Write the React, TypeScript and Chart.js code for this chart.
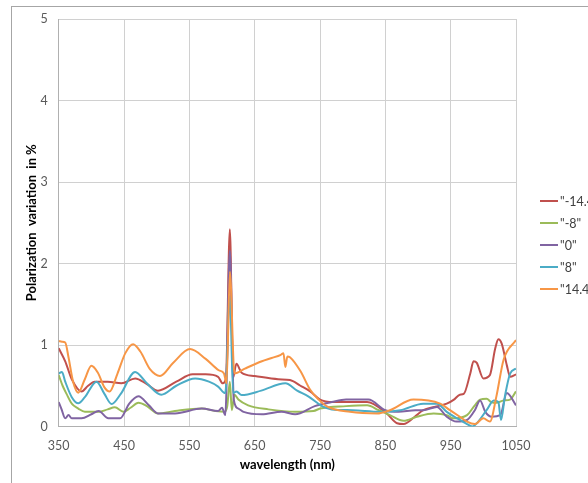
import React, { useEffect, useRef } from "react";
import { Chart, registerables } from "chart.js";
Chart.register(...registerables);

const seriesLabels = ['"-14.4"', '"-8"', '"0"', '"8"', '"14.4"'];
const seriesColors = ["#C0504D", "#9BBB59", "#8064A2", "#4BACC6", "#F79646"];

const xTicks = [350, 450, 550, 650, 750, 850, 950, 1050];
const yTicks = [0, 1, 2, 3, 4, 5];

const redNm = [350, 360, 370, 385, 395, 405, 425, 446, 467, 485, 502, 530, 555, 575, 594, 601, 606, 612, 617, 622, 630, 650, 686, 704, 720, 735, 750, 770, 822, 852, 868, 878, 895, 908, 925, 944, 955, 964, 970, 980, 985, 990, 1000, 1010, 1018, 1023, 1028, 1036, 1041, 1050];
const redVal = [0.96, 0.8, 0.58, 0.43, 0.5, 0.55, 0.55, 0.53, 0.59, 0.52, 0.44, 0.55, 0.64, 0.64, 0.61, 0.53, 0.59, 2.42, 0.6, 0.77, 0.66, 0.62, 0.58, 0.57, 0.5, 0.43, 0.33, 0.3, 0.3, 0.16, 0.04, 0.03, 0.12, 0.2, 0.24, 0.28, 0.33, 0.39, 0.4, 0.65, 0.8, 0.78, 0.59, 0.63, 0.95, 1.07, 1.02, 0.75, 0.61, 0.64];

const greenNm = [350, 356, 362, 370, 380, 390, 411, 425, 436, 449, 460, 472, 485, 502, 528, 569, 590, 604, 608, 612, 615, 619, 625, 640, 671, 712, 740, 750, 790, 822, 840, 857, 878, 898, 924, 944, 954, 975, 987, 995, 1005, 1012, 1020, 1031, 1041, 1050];
const greenVal = [0.63, 0.5, 0.4, 0.28, 0.22, 0.18, 0.18, 0.21, 0.235, 0.18, 0.23, 0.29, 0.25, 0.16, 0.19, 0.22, 0.19, 0.18, 0.25, 0.55, 0.2, 0.39, 0.33, 0.26, 0.21, 0.18, 0.19, 0.22, 0.25, 0.26, 0.2, 0.14, 0.07, 0.12, 0.16, 0.14, 0.1, 0.14, 0.26, 0.33, 0.34, 0.3, 0.29, 0.32, 0.33, 0.43];

const purpleNm = [350, 354, 360, 365, 370, 385, 400, 411, 426, 444, 458, 472, 488, 502, 528, 569, 594, 600, 605, 612, 618, 625, 633, 661, 691, 712, 742, 768, 790, 824, 850, 870, 896, 908, 929, 944, 959, 975, 987, 995, 1003, 1013, 1026, 1036, 1050];
const purpleVal = [0.3, 0.22, 0.1, 0.14, 0.1, 0.1, 0.15, 0.19, 0.1, 0.1, 0.28, 0.37, 0.26, 0.16, 0.16, 0.22, 0.19, 0.23, 0.14, 2.16, 0.33, 0.22, 0.18, 0.15, 0.18, 0.15, 0.25, 0.3, 0.33, 0.33, 0.2, 0.18, 0.2, 0.2, 0.24, 0.12, 0.06, 0.08, 0.2, 0.32, 0.18, 0.12, 0.14, 0.41, 0.26];

const cyanNm = [350, 355, 360, 370, 380, 390, 408, 420, 431, 445, 467, 485, 507, 530, 559, 580, 594, 605, 612, 617, 622, 630, 660, 697, 715, 732, 753, 768, 800, 842, 873, 908, 929, 944, 960, 975, 983, 990, 1005, 1016, 1023, 1027, 1033, 1041, 1050];
const cyanVal = [0.65, 0.67, 0.55, 0.36, 0.285, 0.36, 0.55, 0.4, 0.275, 0.4, 0.67, 0.53, 0.39, 0.5, 0.59, 0.55, 0.49, 0.41, 1.6, 0.41, 0.43, 0.385, 0.44, 0.53, 0.44, 0.37, 0.25, 0.21, 0.2, 0.18, 0.2, 0.28, 0.28, 0.18, 0.1, 0.03, 0.0, 0.04, 0.2, 0.32, 0.3, 0.08, 0.37, 0.65, 0.71];

const orangeNm = [350, 355, 360, 365, 372, 380, 390, 400, 410, 420, 428, 440, 452, 464, 475, 490, 505, 525, 551, 575, 595, 603, 607, 612, 619, 635, 661, 676, 690, 694, 697, 700, 704, 720, 735, 748, 762, 796, 837, 857, 893, 934, 949, 964, 975, 987, 1000, 1010, 1020, 1031, 1050];
const orangeVal = [1.05, 1.04, 1.03, 0.85, 0.55, 0.415, 0.58, 0.746, 0.66, 0.48, 0.43, 0.65, 0.9, 1.01, 0.92, 0.7, 0.62, 0.78, 0.95, 0.83, 0.69, 0.65, 0.53, 1.9, 0.65, 0.71, 0.8, 0.84, 0.88, 0.9, 0.73, 0.86, 0.85, 0.68, 0.45, 0.33, 0.24, 0.18, 0.16, 0.2, 0.33, 0.28, 0.2, 0.12, 0.06, 0.03, 0.1, 0.06, 0.37, 0.82, 1.06];

const seriesNm = [redNm, greenNm, purpleNm, cyanNm, orangeNm];
const seriesVal = [redVal, greenVal, purpleVal, cyanVal, orangeVal];

const xTitle = "wavelength (nm)";
const yTitle = "Polarization  variation  in %";

const decorPlugin = {
  id: "decor",
  beforeDraw(chart: any) {
    const ctx = chart.ctx;
    ctx.save();
    ctx.fillStyle = "#ffffff";
    ctx.fillRect(0, 0, chart.width, chart.height);
    ctx.strokeStyle = "#a6a6a6";
    ctx.lineWidth = 1;
    ctx.strokeRect(11.5, 6.5, 800, 800);
    ctx.restore();
  },
  afterDraw(chart: any) {
    const ctx = chart.ctx;
    const a = chart.chartArea;
    ctx.save();
    ctx.fillStyle = "#000000";
    ctx.font = "bold 13px Lato";
    ctx.textAlign = "center";
    ctx.textBaseline = "middle";
    ctx.fillText(xTitle, (a.left + a.right) / 2, 465);
    ctx.save();
    ctx.translate(32, (a.top + a.bottom) / 2);
    ctx.rotate(-Math.PI / 2);
    ctx.fillText(yTitle, 0, 0);
    ctx.restore();
    ctx.font = "12.5px Lato";
    ctx.textAlign = "left";
    chart.data.datasets.forEach((ds: any, i: number) => {
      const y = 201 + i * 22;
      ctx.strokeStyle = ds.borderColor;
      ctx.lineWidth = 2;
      ctx.beginPath();
      ctx.moveTo(540, y);
      ctx.lineTo(558, y);
      ctx.stroke();
      ctx.fillStyle = "#404040";
      ctx.fillText(ds.label, 560, y + 1);
    });
    ctx.restore();
  },
};

export default function App() {
  const ref = useRef<HTMLCanvasElement | null>(null);
  useEffect(() => {
    if (!ref.current) return;
    const datasets = seriesLabels.map((label, i) => ({
      label,
      data: seriesNm[i].map((x, j) => ({ x, y: seriesVal[i][j] })),
      borderColor: seriesColors[i],
      backgroundColor: seriesColors[i],
      borderWidth: 2,
      pointRadius: 0,
      fill: false,
      cubicInterpolationMode: "monotone" as const,
      order: seriesLabels.length - i,
    }));
    const chart = new Chart(ref.current, {
      type: "line",
      data: { datasets },
      options: {
        animation: false,
        responsive: false,
        devicePixelRatio: 1,
        layout: { padding: { top: 19, right: 72, left: 0, bottom: 0 } },
        plugins: { legend: { display: false }, tooltip: { enabled: false } },
        scales: {
          x: {
            type: "linear",
            min: 350,
            max: 1050,
            afterBuildTicks: (s: any) => {
              s.ticks = xTicks.map((v) => ({ value: v }));
            },
            afterFit: (s: any) => {
              s.height = 56.5;
            },
            grid: { color: "#d0d0d0", drawTicks: false },
            border: { color: "#b0b0b0" },
            ticks: {
              color: "#595959",
              font: { family: "Lato", size: 12.5 },
              padding: 12,
              maxRotation: 0,
              callback: (v: any) => String(v),
            },
          },
          y: {
            type: "linear",
            min: 0,
            max: 5,
            afterBuildTicks: (s: any) => {
              s.ticks = yTicks.map((v) => ({ value: v }));
            },
            afterFit: (s: any) => {
              s.width = 58.7;
            },
            grid: { color: "#d0d0d0", drawTicks: false },
            border: { color: "#b0b0b0" },
            ticks: {
              color: "#595959",
              font: { family: "Lato", size: 12.5 },
              padding: 11,
              callback: (v: any) => String(v),
            },
          },
        },
      },
      plugins: [decorPlugin],
    });
    return () => chart.destroy();
  }, []);
  return (
    <div style={{ position: "fixed", left: 0, top: 0, width: 588, height: 483, overflow: "hidden", background: "#fff" }}>
      <canvas ref={ref} width={588} height={483} style={{ width: 588, height: 483, display: "block" }} />
    </div>
  );
}
